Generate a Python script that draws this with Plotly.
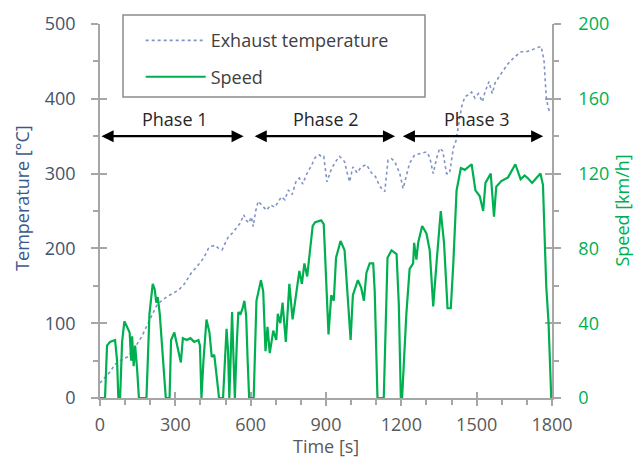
import plotly.graph_objects as go

# ---------------- data ----------------
speed_time = [0, 20, 28, 40, 60, 68, 73, 80, 88, 97, 108, 118, 124, 128, 134, 140, 148, 155,
              185, 197, 210, 218, 224, 230, 238, 250, 262, 277, 283, 296, 308, 322, 330, 345,
              360, 375, 392, 398, 404, 412, 424, 436, 445, 455, 466, 474, 490, 498, 504, 510,
              515, 520, 526, 532, 537, 545, 551, 560, 568, 575, 582, 588, 594, 612,
              623, 641, 650, 659, 667, 676, 690, 702, 708, 718, 727, 740, 754, 767, 780, 794,
              804, 814, 825, 834, 847, 857, 881, 891, 900, 910, 921, 931, 940, 958, 974, 984,
              998, 1007, 1027, 1040, 1051, 1061, 1074, 1088, 1094, 1105, 1130, 1145, 1161, 1181,
              1190, 1198, 1203,
              1220, 1233, 1247, 1251, 1260, 1267, 1283, 1300, 1313, 1327, 1340, 1357, 1370, 1384,
              1397, 1407, 1420, 1437, 1453, 1480, 1495, 1512, 1526, 1535, 1556, 1569, 1578, 1598,
              1625, 1641, 1654, 1675, 1691, 1704, 1721, 1737, 1754, 1764, 1777, 1786, 1797]
speed_kmh = [0, 0, 28, 30, 31, 20, 0, 0, 30, 41, 38, 35, 20, 33, 17, 28, 15, 0,
             0, 45, 61, 58, 51, 54, 45, 20, 0, 0, 31, 35, 28, 19, 32, 31,
             32, 30, 31, 28, 0, 20, 42, 35, 22, 23, 10, 0, 0, 20, 37, 25,
             0, 20, 46, 20, 0, 30, 46, 45, 48, 52, 44, 20, 0, 0,
             52, 63, 57, 25, 38, 24, 36, 31, 45, 40, 51, 30, 61, 42, 55, 68,
             61, 72, 65, 75, 92, 94, 95, 93, 68, 34, 55, 52, 75, 84, 79, 57,
             31, 55, 63, 59, 52, 67, 72, 72, 57, 0, 0, 75, 79, 77,
             50, 0, 0,
             45, 69, 72, 83, 74, 83, 92, 88, 79, 49, 72, 100, 83, 48,
             48, 72, 111, 123, 122, 125, 111, 108, 100, 115, 120, 97, 113, 116,
             118, 122, 125, 117, 119, 117.5, 115, 117.5, 120, 114, 60, 41, 0]

temp_time = [0, 20, 40, 60, 90, 111, 140, 166, 190, 207, 226, 245, 265, 290, 312, 335, 352,
             365, 379, 392, 406, 420, 432, 445, 459, 472, 486, 500, 512, 526, 539, 550, 559,
             572, 582, 592, 603, 610, 620, 630, 645, 663, 680, 695, 710, 722, 736, 750, 765,
             780, 794, 808, 821, 834, 844, 854, 864, 874, 883, 891, 904, 918, 934, 954, 964,
             974, 985, 994, 1007, 1024, 1040, 1061, 1081, 1097, 1114, 1134, 1147, 1161, 1174,
             1194, 1207, 1220, 1233, 1253, 1273, 1300, 1313, 1327, 1340, 1353, 1365, 1380,
             1392, 1407, 1417, 1427, 1440, 1453, 1467, 1480, 1493, 1507, 1523, 1533, 1549,
             1562, 1573, 1598, 1625, 1651, 1678, 1698, 1718, 1737, 1757, 1768, 1777, 1784, 1791]
temp_c = [20, 28, 35, 45, 52, 55, 68, 82, 98, 111, 124, 130, 135, 140, 144, 152, 162,
          168, 173, 178, 184, 192, 200, 203, 204, 200, 198, 208, 216, 220, 225, 230, 234,
          245, 238, 234, 242, 229, 250, 263, 258, 251, 258, 255, 262, 269, 265, 278, 272,
          289, 294, 286, 298, 305, 312, 320, 324, 325, 322, 323, 289, 303, 314, 323, 320,
          316, 300, 289, 309, 301, 309, 312, 301, 296, 283, 276, 318, 320, 316,
          300, 280, 296, 314, 325, 327, 329, 322, 300, 320, 334, 330, 300,
          300, 334, 343, 363, 389, 403, 405, 409, 401, 407, 396, 409, 423,
          407, 421, 434, 447, 456, 463, 463, 465, 468, 470, 452, 403, 389, 382]

x_ticks = [0, 300, 600, 900, 1200, 1500, 1800]
temp_ticks = [0, 100, 200, 300, 400, 500]
speed_ticks = [0, 40, 80, 120, 160, 200]

phase_labels = ["Phase 1", "Phase 2", "Phase 3"]
phase_label_time = [300, 900, 1500]
phase_arrow_start = [0, 610, 1200]
phase_arrow_end = [572, 1175, 1765]
phase_arrow_temp = 350
phase_label_temp = 373

# ---------------- styling ----------------
FONT = "Open Sans"
FS = 18
AXIS_GREY = "#a6a6a6"
BLUE_TXT = "#44546a"
BLUE_TITLE = "#3b5a8c"
GREEN = "#00b050"
GREY_TXT = "#595959"

fig = go.Figure()
fig.add_trace(go.Scatter(x=temp_time, y=temp_c, mode="lines", name="Exhaust temperature",
                         line=dict(color="#8193c4", width=1.6, dash="dot"),
                         legendgroup="a", yaxis="y"))
fig.add_trace(go.Scatter(x=speed_time, y=speed_kmh, mode="lines", name="Speed",
                         line=dict(color=GREEN, width=2.2),
                         legendgroup="b", yaxis="y2"))
# empty helper traces so that the tick-only overlay axes are drawn (crossing ticks)
fig.add_trace(go.Scatter(x=[], y=[], xaxis="x3", yaxis="y3", showlegend=False, hoverinfo="skip"))
fig.add_trace(go.Scatter(x=[], y=[], xaxis="x", yaxis="y4", showlegend=False, hoverinfo="skip"))

tick_common = dict(tickcolor=AXIS_GREY, tickwidth=1.5, showgrid=False, zeroline=False)

fig.update_layout(
    width=642, height=461,
    margin=dict(l=100, r=90, t=24, b=63),
    paper_bgcolor="white", plot_bgcolor="white",
    font=dict(family=FONT, size=FS, color=GREY_TXT),
    showlegend=True,
    legend=dict(x=0.09, y=1.005, xanchor="left", yanchor="top",
                bgcolor="rgba(0,0,0,0)", borderwidth=0,
                font=dict(family=FONT, size=FS, color="#404040"),
                traceorder="grouped", tracegroupgap=10, itemwidth=60),
    xaxis=dict(range=[0, 1800], tickvals=x_ticks, showline=True, linecolor=AXIS_GREY,
               linewidth=1.5, ticks="outside", ticklen=6, layer="below traces",
               minor=dict(dtick=100, ticks="outside", ticklen=5, tickcolor=AXIS_GREY, tickwidth=1.5),
               tickfont=dict(color=GREY_TXT, size=FS), ticklabelstandoff=4, **tick_common),
    yaxis=dict(range=[0, 500], tickvals=temp_ticks, showline=True, linecolor=AXIS_GREY,
               linewidth=1.5, ticks="outside", ticklen=7, layer="below traces",
               minor=dict(dtick=50, ticks="outside", ticklen=5, tickcolor=AXIS_GREY, tickwidth=1.5),
               tickfont=dict(color=BLUE_TXT, size=FS), ticklabelstandoff=12, **tick_common),
    yaxis2=dict(range=[0, 200], tickvals=speed_ticks, overlaying="y", side="right", anchor="x",
                showline=True, linecolor=AXIS_GREY, linewidth=1.5, ticks="outside", ticklen=7,
                layer="below traces",
                minor=dict(dtick=20, ticks="outside", ticklen=5, tickcolor=AXIS_GREY, tickwidth=1.5),
                tickfont=dict(color=GREEN, size=FS), ticklabelstandoff=14, **tick_common),
    xaxis3=dict(range=[0, 1800], tickvals=x_ticks, overlaying="x", anchor="y", ticks="inside",
                ticklen=6, showticklabels=False, showline=False, layer="below traces", **tick_common),
    yaxis3=dict(range=[0, 500], tickvals=temp_ticks, overlaying="y", anchor="x", side="left",
                ticks="inside", ticklen=7, showticklabels=False, showline=False,
                layer="below traces", **tick_common),
    yaxis4=dict(range=[0, 200], tickvals=speed_ticks, overlaying="y", anchor="x", side="right",
                ticks="inside", ticklen=7, showticklabels=False, showline=False,
                layer="below traces", **tick_common),
)

# legend frame
fig.add_shape(type="rect", xref="paper", yref="paper", x0=0.0509, x1=0.719, y0=0.8048, y1=1.024,
              line=dict(color="#8c8c8c", width=1.5), fillcolor="white", layer="below")

# axis titles
fig.add_annotation(text="Temperature [°C]", xref="paper", yref="paper", x=-0.1726, y=0.535,
                   textangle=-90, showarrow=False, xanchor="center", yanchor="middle",
                   font=dict(family=FONT, size=FS, color=BLUE_TITLE))
fig.add_annotation(text="Speed [km/h]", xref="paper", yref="paper", x=1.154, y=0.5,
                   textangle=-90, showarrow=False, xanchor="center", yanchor="middle",
                   font=dict(family=FONT, size=FS, color=GREEN))
fig.add_annotation(text="Time [s]", xref="paper", yref="paper", x=0.5, y=-0.128,
                   showarrow=False, xanchor="center", yanchor="middle",
                   font=dict(family=FONT, size=FS, color=GREY_TXT))

# phase arrows and labels
for lab, tx, s, e in zip(phase_labels, phase_label_time, phase_arrow_start, phase_arrow_end):
    fig.add_annotation(x=e, y=phase_arrow_temp, ax=s, ay=phase_arrow_temp, xref="x", yref="y",
                       axref="x", ayref="y", text="", showarrow=True, arrowside="end+start",
                       arrowhead=2, arrowsize=1.1, arrowwidth=2.2, arrowcolor="black",
                       standoff=0, startstandoff=0)
    fig.add_annotation(x=tx, y=phase_label_temp, xref="x", yref="y", text=lab, showarrow=False,
                       font=dict(family=FONT, size=FS, color="#262626"))

fig.write_html("out.html")
